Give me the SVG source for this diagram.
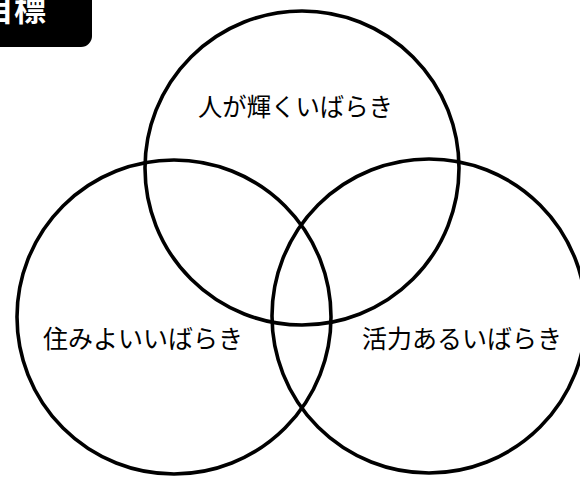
<svg xmlns="http://www.w3.org/2000/svg" width="580" height="478" viewBox="0 0 580 478">
<style>
.ring{fill:none;stroke:#000;stroke-width:3.6}
.lbl{font-family:"Noto Sans CJK JP","Noto Sans",sans-serif;font-size:25px;fill:#000;text-anchor:middle}
.tab{font-family:"Noto Sans CJK JP","Noto Sans",sans-serif;font-size:32px;font-weight:bold;fill:#fff}
</style>
<rect width="580" height="478" fill="#fff"/>
<g id="title">
<rect x="-20" y="-20" width="112" height="67" rx="11" fill="#000"/>
<text class="tab" x="-18" y="21">目標</text>
</g>
<g id="connectors"></g>
<g id="node-top">
<circle class="ring" cx="302" cy="168" r="157"/>
<text class="lbl" x="295.5" y="116" textLength="195" lengthAdjust="spacingAndGlyphs">人が輝くいばらき</text>
</g>
<g id="node-left">
<circle class="ring" cx="174" cy="317" r="157"/>
<text class="lbl" x="143" y="348" textLength="200" lengthAdjust="spacingAndGlyphs">住みよいいばらき</text>
</g>
<g id="node-right">
<circle class="ring" cx="429" cy="316" r="157"/>
<text class="lbl" x="462" y="348" textLength="200" lengthAdjust="spacingAndGlyphs">活力あるいばらき</text>
</g>
</svg>
